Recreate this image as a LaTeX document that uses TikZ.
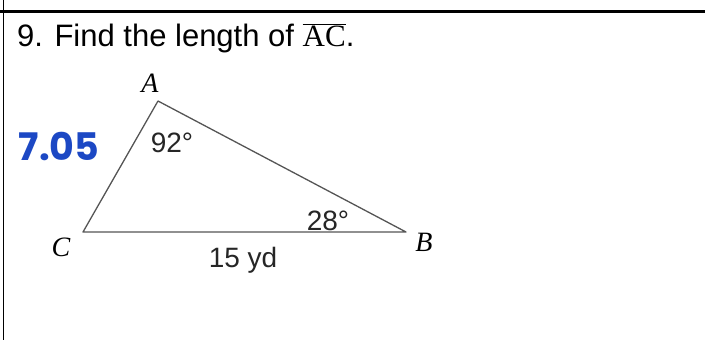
\documentclass[tikz,border=0pt]{standalone}
\usepackage{fontspec}
\setmainfont{Liberation Sans}
\newfontfamily\serifletters{Liberation Serif}
\newfontfamily\handfont{Poppins}
\usetikzlibrary{positioning}
\definecolor{penblue}{RGB}{28,72,196}
\definecolor{edgegray}{RGB}{85,85,85}
\tikzset{
  vertexlabel/.style={font=\fontsize{28}{32}\selectfont\serifletters\itshape},
  anglelabel/.style={font=\fontsize{28}{32}\selectfont, text=black!85},
}

\begin{document}
\begin{tikzpicture}[x=1pt,y=-1pt, every node/.style={inner sep=0pt}]
  \useasboundingbox (0,0) rectangle (705,340);
  \draw[line width=2.5pt] (0,11.5) -- (705,11.5);
  \draw[line width=1.5pt] (3.5,0) -- (3.5,340);
  \node[anchor=base west,font=\fontsize{31}{36}\selectfont] (title) at (17,46)
    {9. Find the length of $\overline{\hbox{\serifletters AC}}$.};
  \coordinate (A) at (158,101);
  \coordinate (B) at (406,232);
  \coordinate (C) at (83,232);
  \draw[edgegray,line width=1.3pt,line join=round] (A) -- (B) -- (C) -- cycle;
  \node[vertexlabel] (labelA) at (150,83) {A};
  \node[vertexlabel] (labelB) at (424,242) {B};
  \node[vertexlabel] (labelC) at (61,247) {C};
  \node[anglelabel] (angleA) at (172,143) {92°};
  \node[anglelabel] (angleB) at (328,221) {28°};
  \node[anglelabel,anchor=base] (sideCB) at (243,267) {15 yd};
  \node[font=\fontsize{38}{40}\selectfont\handfont\bfseries,text=penblue] (answer) at (59,146) {7.05};
\end{tikzpicture}
\end{document}
